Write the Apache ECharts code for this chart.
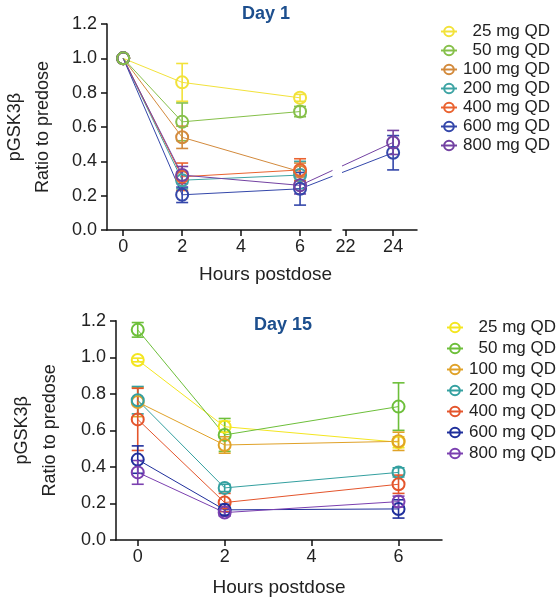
<!DOCTYPE html>
<html><head><meta charset="utf-8">
<script src="https://cdn.jsdelivr.net/npm/echarts@6/dist/echarts.min.js"></script>
<style>html,body{margin:0;padding:0;background:#fff}#c{width:560px;height:600px}</style>
</head><body><div id="c"></div>
<script>
// ---- data ----
const doses = ['25 mg QD', '50 mg QD', '100 mg QD', '200 mg QD', '400 mg QD', '600 mg QD', '800 mg QD'];
const hours = [0, 2, 6];
const lateHour = 24;
const day1TickLabels = [0, 2, 4, 6];
const day1LateTickLabels = [22, 24];
const day15TickLabels = [0, 2, 4, 6];
// Day 1 means at 0, 2, 6 h (rows follow doses)
const day1Means = [
  [1.00, 0.86, 0.77],
  [1.00, 0.63, 0.69],
  [1.00, 0.54, 0.34],
  [1.00, 0.29, 0.32],
  [1.00, 0.31, 0.35],
  [1.00, 0.205, 0.24],
  [1.00, 0.32, 0.26]
];
const day1Errors = [
  [0, 0.11, 0.02],
  [0, 0.11, 0.03],
  [0, 0.065, 0.05],
  [0, 0.05, 0.08],
  [0, 0.08, 0.065],
  [0, 0.045, 0.095],
  [0, 0.05, 0.05]
];
const day1Hour24Means = [null, null, null, null, null, 0.45, 0.51];
const day1Hour24Errors = [null, null, null, null, null, 0.10, 0.07];
// Day 15 means at 0, 2, 6 h
const day15Means = [
  [0.985, 0.62, 0.535],
  [1.15, 0.575, 0.73],
  [0.755, 0.52, 0.54],
  [0.765, 0.285, 0.37],
  [0.66, 0.205, 0.305],
  [0.44, 0.165, 0.17],
  [0.37, 0.15, 0.21]
];
const day15Errors = [
  [0.01, 0.03, 0.03],
  [0.04, 0.09, 0.13],
  [0.08, 0.045, 0.05],
  [0.075, 0.02, 0.025],
  [0.17, 0.05, 0.05],
  [0.075, 0.03, 0.05],
  [0.065, 0.02, 0.03]
];
const day1Colors = ['#f2e23a', '#86c04a', '#d38a3c', '#3ea4a4', '#ea6330', '#3447aa', '#7342a2'];
const day15Colors = ['#f4e620', '#6dbf3a', '#e0a228', '#34a0a0', '#e4552c', '#1f2f9c', '#7b40b0'];

// ---- chart ----
const FONT = '"Liberation Sans", Arial, Helvetica, sans-serif';
const chart = echarts.init(document.getElementById('c'), null, {renderer: 'canvas'});

function errRender(color) {
  return function (params, api) {
    const x = api.value(0), lo = api.value(1), hi = api.value(2);
    const a = api.coord([x, hi]), b = api.coord([x, lo]);
    const w = 6;
    const st = {stroke: color, lineWidth: 1.6};
    return {type: 'group', children: [
      {type: 'line', shape: {x1: a[0], y1: a[1], x2: b[0], y2: b[1]}, style: st},
      {type: 'line', shape: {x1: a[0] - w, y1: a[1], x2: a[0] + w, y2: a[1]}, style: st},
      {type: 'line', shape: {x1: b[0] - w, y1: b[1], x2: b[0] + w, y2: b[1]}, style: st}
    ]};
  };
}

function lineSeries(name, color, data, xi, yi, z) {
  return {
    type: 'line', name: name, data: data, xAxisIndex: xi, yAxisIndex: yi,
    symbol: 'circle', symbolSize: 12, z: z || 3,
    itemStyle: {color: 'rgba(255,255,255,0)', borderColor: color, borderWidth: 2},
    lineStyle: {color: color, width: 1},
    emphasis: {disabled: true}, silent: true
  };
}
function errSeries(color, data, xi, yi) {
  return {
    type: 'custom', data: data, xAxisIndex: xi, yAxisIndex: yi,
    encode: {x: 0, y: [1, 2]}, renderItem: errRender(color), z: 2, silent: true
  };
}

const series = [];
doses.forEach((d, i) => {
  const c = day1Colors[i];
  series.push(lineSeries(d, c, hours.map((h, k) => [h, day1Means[i][k]]), 0, 0, i === 1 ? 4 : 3));
  series.push(errSeries(c, hours.map((h, k) => [h, day1Means[i][k] - day1Errors[i][k], day1Means[i][k] + day1Errors[i][k]]).filter((r, k) => day1Errors[i][k] > 0), 0, 0));
  if (day1Hour24Means[i] != null) {
    series.push(lineSeries(d, c, [[lateHour, day1Hour24Means[i]]], 1, 1));
    series.push(errSeries(c, [[lateHour, day1Hour24Means[i] - day1Hour24Errors[i], day1Hour24Means[i] + day1Hour24Errors[i]]], 1, 1));
    series.push({
      type: 'line', data: [[hours[2], day1Means[i][2]], [lateHour, day1Hour24Means[i]]],
      xAxisIndex: 2, yAxisIndex: 2, symbol: 'none', lineStyle: {color: c, width: 1}, z: 1, silent: true
    });
  }
});
doses.forEach((d, i) => {
  const c = day15Colors[i];
  series.push(lineSeries(d + ' ', c, hours.map((h, k) => [h, day15Means[i][k]]), 3, 3));
  series.push(errSeries(c, hours.map((h, k) => [h, day15Means[i][k] - day15Errors[i][k], day15Means[i][k] + day15Errors[i][k]]).filter((r, k) => day15Errors[i][k] > 0), 3, 3));
});

const axisLine = {show: true, onZero: false, lineStyle: {color: '#111', width: 1.5}};
const axisTick = {show: true, inside: false, length: 6, lineStyle: {color: '#111', width: 1.5}};
const labelStyle = {fontSize: 18, color: '#222', fontFamily: FONT};

function yAx(gi, show, nameGap) {
  return {
    type: 'value', gridIndex: gi, min: 0, max: 1.2, interval: 0.2, show: show,
    axisLine: axisLine, axisTick: axisTick, splitLine: {show: false},
    axisLabel: Object.assign({margin: 10, formatter: v => v.toFixed(1)}, labelStyle),
    name: show ? 'pGSK3β\nRatio to predose' : '', nameLocation: 'middle', nameGap: nameGap, nameRotate: 90,
    nameTextStyle: {fontSize: 18, color: '#222', fontFamily: FONT, lineHeight: 28}
  };
}

function legendFor(left, top, data, lh) {
  return {
    orient: 'vertical', left: left, top: top, data: data, padding: 0,
    itemWidth: 16, itemHeight: 12, itemGap: 0, selectedMode: false,
    formatter: n => '{n|' + n.trim() + '}',
    textStyle: {fontSize: 17, fontFamily: FONT, color: '#222', lineHeight: lh,
      rich: {n: {width: 88, align: 'right', fontSize: 17, lineHeight: lh, fontFamily: FONT, color: '#222'}}}
  };
}

chart.setOption({
  animation: false,
  backgroundColor: '#fff',
  title: [
    {text: 'Day 1', left: 261, top: 0, textAlign: 'center', textStyle: {fontSize: 18, fontWeight: 'bold', color: '#1d4f8e', fontFamily: FONT}},
    {text: 'Day 15', left: 278, top: 311, textAlign: 'center', textStyle: {fontSize: 18, fontWeight: 'bold', color: '#1d4f8e', fontFamily: FONT}}
  ],
  legend: [
    legendFor(440, 22, doses, 19),
    legendFor(446, 317, doses.map(d => d + ' '), 21)
  ],
  grid: [
    {left: 107, top: 24, width: 224, height: 206},
    {left: 343, top: 24, width: 74, height: 206},
    {left: 300.1, top: 24, width: 93, height: 206},
    {left: 113, top: 320.7, width: 329, height: 219.3}
  ],
  xAxis: [
    {type: 'value', gridIndex: 0, min: -0.55, max: 7.05, axisLine: axisLine, splitLine: {show: false},
      axisTick: Object.assign({customValues: day1TickLabels}, axisTick),
      axisLabel: Object.assign({customValues: day1TickLabels, margin: 8}, labelStyle)},
    {type: 'value', gridIndex: 1, min: 21.9, max: 25, axisLine: axisLine, splitLine: {show: false},
      axisTick: Object.assign({customValues: day1LateTickLabels}, axisTick),
      axisLabel: Object.assign({customValues: day1LateTickLabels, margin: 8}, labelStyle)},
    {type: 'value', gridIndex: 2, min: 6, max: 24, show: false},
    {type: 'value', gridIndex: 3, min: -0.5, max: 7, axisLine: axisLine, splitLine: {show: false},
      axisTick: Object.assign({customValues: day15TickLabels}, axisTick),
      axisLabel: Object.assign({customValues: day15TickLabels, margin: 8}, labelStyle),
      name: 'Hours postdose', nameLocation: 'middle', nameGap: 38,
      nameTextStyle: {fontSize: 19, color: '#222', fontFamily: FONT}}
  ],
  yAxis: [yAx(0, true, 50), yAx(1, false, 0), yAx(2, false, 0), yAx(3, true, 52)],
  graphic: [
    {type: 'rect', z: 100, shape: {x: 332.5, y: 100, width: 9.5, height: 128}, style: {fill: '#fff'}},
    {type: 'text', z: 100, left: 262 - 63, top: 265, style: {text: 'Hours postdose', fontSize: 19, fill: '#222', fontFamily: FONT}}
  ],
  series: series
});
</script></body></html>
